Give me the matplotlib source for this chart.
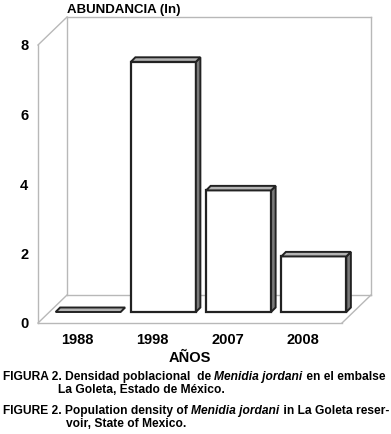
import matplotlib
matplotlib.use("Agg")
import matplotlib.pyplot as plt
from matplotlib.patches import Polygon

# ---- data ----
years = ["1988", "1998", "2007", "2008"]
abundance = [0.0, 7.2, 3.5, 1.6]
yticks = [0, 2, 4, 6, 8]

W, H = 391, 434
fig = plt.figure(figsize=(W / 100, H / 100), dpi=100)
plt.rcParams['font.family'] = ['Liberation Sans', 'DejaVu Sans']

# front plane: x from 38px to 342px, y value 0 at 323px, 8 at 45px
ax = fig.add_axes([38 / W, (H - 323) / H, (342 - 38) / W, (323 - 45) / H])
xlo, xhi = -0.52, 3.52
ax.set_xlim(xlo, xhi)
ax.set_ylim(0, 8)
for s in ax.spines.values():
    s.set_visible(False)

px_x = (xhi - xlo) / (342 - 38)   # data units per pixel in x
px_y = 8 / (323 - 45)             # data units per pixel in y

# wall depth
wdx, wdy = 29 * px_x, 28 * px_y
wall_c = "#b8b8b8"
lk = dict(color=wall_c, lw=1.0, clip_on=False, zorder=1)
ax.plot([xlo, xlo], [0, 8], **lk)
ax.plot([xlo, xlo + wdx], [8, 8 + wdy], **lk)
ax.plot([xlo + wdx, xlo + wdx], [wdy, 8 + wdy], **lk)
ax.plot([xlo + wdx, xhi + wdx], [8 + wdy, 8 + wdy], **lk)
ax.plot([xhi + wdx, xhi + wdx], [wdy, 8 + wdy], **lk)
ax.plot([xlo + wdx, xhi + wdx], [wdy, wdy], **lk)
ax.plot([xlo, xhi], [0, 0], **lk)
ax.plot([xlo, xlo + wdx], [0, wdy], **lk)
ax.plot([xhi, xhi + wdx], [0, wdy], **lk)

# bars
bdx, bdy = 11 * px_x, 11 * px_y   # bar front depth
tdx, tdy = 4.5 * px_x, 4.5 * px_y  # bar thickness
hw = 32.5 * px_x
ec = "#222222"
for i, v in enumerate(abundance):
    x0 = i - hw + bdx
    x1 = i + hw + bdx
    y0 = bdy
    y1 = bdy + v
    if v > 0:
        ax.add_patch(Polygon([(x0, y0), (x1, y0), (x1, y1), (x0, y1)], closed=True,
                             facecolor="white", edgecolor=ec, lw=1.6, clip_on=False, zorder=3))
        ax.add_patch(Polygon([(x1, y0), (x1 + tdx, y0 + tdy), (x1 + tdx, y1 + tdy), (x1, y1)],
                             closed=True, facecolor="#7a7a7a", edgecolor=ec, lw=1.4,
                             clip_on=False, zorder=3))
    ax.add_patch(Polygon([(x0, y1), (x1, y1), (x1 + tdx, y1 + tdy), (x0 + tdx, y1 + tdy)],
                         closed=True, facecolor="#b4b4b4", edgecolor=ec, lw=1.4,
                         clip_on=False, zorder=4))

ax.set_yticks(yticks)
ax.set_yticklabels([str(t) for t in yticks], fontsize=10.5, fontweight="bold")
ax.set_xticks(range(len(years)))
ax.set_xticklabels(years, fontsize=10.5, fontweight="bold")
ax.tick_params(axis="y", length=0, pad=7)
ax.tick_params(axis="x", length=0, pad=7)

fig.text(67 / W, 1 - 10 / H, "ABUNDANCIA (ln)", fontsize=9.5, fontweight="bold",
         ha="left", va="center")
fig.text(190 / W, 1 - 358 / H, "AÑOS", fontsize=10.5, fontweight="bold",
         ha="center", va="center")

# captions with mixed italic
fig.canvas.draw()
renderer = fig.canvas.get_renderer()

cap1 = [("FIGURA 2. Densidad poblacional  de ", "normal"), ("Menidia jordani", "italic"),
        (" en el embalse", "normal")]
cap2 = [("La Goleta, Estado de México.", "normal")]
cap3 = [("FIGURE 2. Population density of ", "normal"), ("Menidia jordani", "italic"),
        (" in La Goleta reser-", "normal")]
cap4 = [("voir, State of Mexico.", "normal")]


def rich(x_px, y_px, parts, fs):
    x = x_px / W
    texts = []
    for txt, style in parts:
        t = fig.text(x, 1 - y_px / H, txt, fontsize=fs, fontweight="bold",
                     fontstyle=style, ha="left", va="center")
        bb = t.get_window_extent(renderer=renderer)
        x = bb.x1 / fig.bbox.width
        texts.append(t)
    return x * W - x_px, texts


def fit(x_px, y_px, parts, target):
    w, ts = rich(x_px, y_px, parts, 9)
    for t in ts:
        t.remove()
    return 9 * target / w


fs1 = fit(3, 377, cap1, 385)
fs3 = fit(3, 411, cap3, 383)
fs = min(fs1, fs3)
rich(3, 377, cap1, fs)
rich(58, 390, cap2, fs)
rich(3, 411, cap3, fs)
rich(66, 424, cap4, fs)

fig.savefig("out.png", dpi=100)
